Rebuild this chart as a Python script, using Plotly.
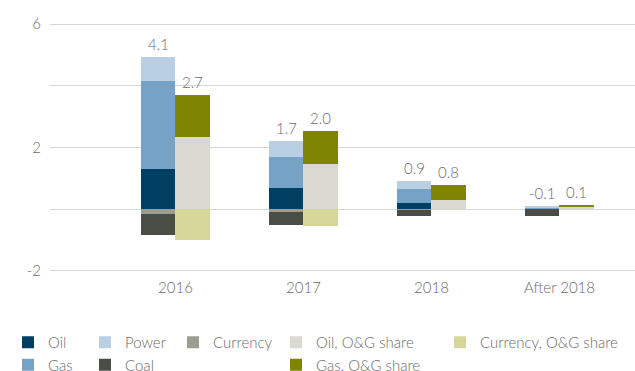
import plotly.graph_objects as go

# Categories and series (contributions, stacked; negatives stack below zero)
categories = ["2016", "2017", "2018", "After 2018"]

oil = [1.3, 0.7, 0.2, 0.02]
gas = [2.85, 1.0, 0.45, 0.03]
power = [0.8, 0.5, 0.25, 0.05]
currency = [-0.15, -0.1, -0.03, 0.0]
coal = [-0.7, -0.4, -0.2, -0.22]

oil_og = [2.35, 1.45, 0.3, 0.07]
gas_og = [1.35, 1.1, 0.5, 0.08]
currency_og = [-1.0, -0.55, 0.0, 0.0]

# Totals printed above each column
total_left = ["4.1", "1.7", "0.9", "-0.1"]
total_right = ["2.7", "2.0", "0.8", "0.1"]

ytick_vals = [-2, 0, 2, 4, 6]
ytick_text = ["-2", "", "2", "", "6"]

FONT = "Lato"
TXT = "#6b6b6b"
BAR_W = 0.27
X_RANGE = [-0.98, 3.59]

idx = list(range(len(categories)))

left_series = [
    ("Oil", oil, "#003f62", "legend"),
    ("Gas", gas, "#76a2c5", "legend"),
    ("Power", power, "#b9cfe3", "legend2"),
    ("Currency", currency, "#9b9d93", "legend3"),
    ("Coal", coal, "#4a4d45", "legend2"),
]
right_series = [
    ("Oil, O&G share", oil_og, "#d9d9d1", "legend4"),
    ("Gas. O&G share", gas_og, "#808500", "legend4"),
    ("Currency, O&G share", currency_og, "#d6d69a", "legend5"),
]

fig = go.Figure()
# Left column of each pair: energy-source breakdown (stacks on x)
for name, vals, color, lg in left_series:
    fig.add_trace(go.Bar(
        x=idx, y=vals, name=name, marker=dict(color=color, line=dict(width=0)),
        width=BAR_W, offset=-BAR_W, legend=lg, hoverinfo="name+y",
    ))
# Right column: O&G share breakdown, on an overlaid x axis so it stacks separately
for name, vals, color, lg in right_series:
    fig.add_trace(go.Bar(
        x=idx, y=vals, name=name, marker=dict(color=color, line=dict(width=0)),
        width=BAR_W, offset=0, legend=lg, hoverinfo="name+y", xaxis="x2",
    ))

# Total labels sit above the positive part of each stack
left_top = [sum(v for v in col if v > 0) for col in zip(oil, gas, power, currency, coal)]
right_top = [sum(v for v in col if v > 0) for col in zip(oil_og, gas_og, currency_og)]
for i in idx:
    for xpos, ytop, txt in ((i - BAR_W / 2, left_top[i], total_left[i]),
                            (i + BAR_W / 2, right_top[i], total_right[i])):
        fig.add_annotation(
            x=xpos, y=ytop, text=txt, showarrow=False,
            xanchor="center", yanchor="middle", yshift=13,
            font=dict(family=FONT, size=15, color=TXT, weight=300),
        )

legend_common = dict(
    orientation="v", xref="container", yref="container",
    xanchor="left", yanchor="top", bgcolor="rgba(0,0,0,0)",
    font=dict(family=FONT, size=15, color=TXT, weight=300), tracegroupgap=0,
    itemclick=False, itemdoubleclick=False,
)
legend_y = 1 - 326 / 371
marker_x = {"legend": 28, "legend2": 105, "legend3": 193, "legend4": 296, "legend5": 460}
legends = {k: dict(legend_common, x=(v - 20) / 635, y=legend_y) for k, v in marker_x.items()}

fig.update_layout(
    width=635, height=371,
    margin=dict(l=50, r=0, t=18, b=94, autoexpand=False),
    paper_bgcolor="white", plot_bgcolor="white",
    barmode="relative", bargap=0,
    showlegend=True,
    font=dict(family=FONT, color=TXT),
    xaxis=dict(
        type="linear",
        tickmode="array", tickvals=idx, ticktext=categories,
        range=X_RANGE, showgrid=False, zeroline=False, showline=False,
        ticks="", tickfont=dict(family=FONT, size=15, color=TXT, weight=300),
    ),
    xaxis2=dict(
        type="linear", overlaying="x", range=X_RANGE, visible=False,
    ),
    yaxis=dict(
        range=[-2.2, 6.2], tickmode="array", tickvals=ytick_vals, ticktext=ytick_text,
        showgrid=True, gridcolor="#d6d6d6", gridwidth=1.3,
        zeroline=True, zerolinecolor="#d6d6d6", zerolinewidth=1.3,
        showline=False, ticks="", ticklabelstandoff=8,
        tickfont=dict(family=FONT, size=15, color=TXT, weight=300),
    ),
    **legends,
)

fig.write_html("out.html")
